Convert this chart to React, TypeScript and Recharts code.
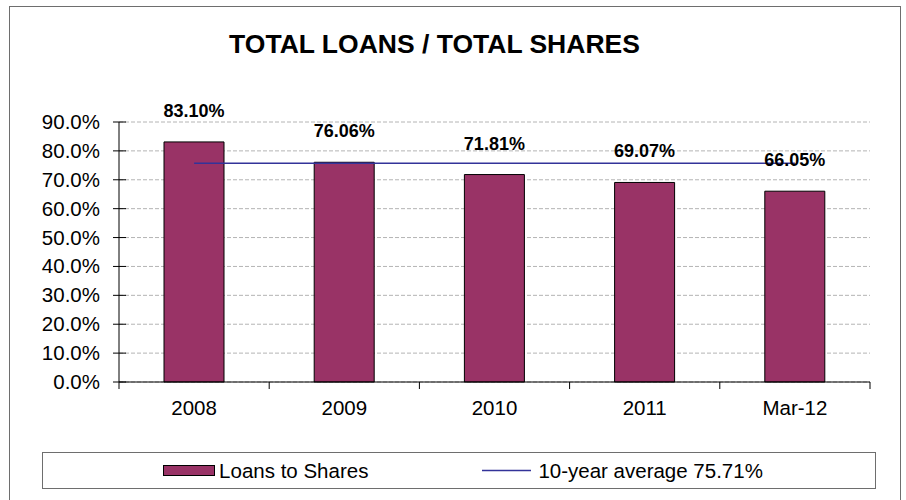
import {
    ComposedChart,
    Bar,
    Line,
    XAxis,
    YAxis,
    CartesianGrid,
    Legend,
    LabelList,
} from "recharts";

const categories = ["2008", "2009", "2010", "2011", "Mar-12"];
const loansToShares = [83.1, 76.06, 71.81, 69.07, 66.05];
const tenYearAverage = [75.71, 75.71, 75.71, 75.71, 75.71];
const yTicks = [0, 10, 20, 30, 40, 50, 60, 70, 80, 90];

const FONT = "'Liberation Sans', Arial, sans-serif";
const W = 906;
const H = 500;
const MARGIN = { top: 122, right: 36, bottom: 88, left: 59 };
const Y_AXIS_W = 60;
const BAND = (W - MARGIN.left - Y_AXIS_W - MARGIN.right) / categories.length;

const data = categories.map((name, i) => ({
    name,
    loans: loansToShares[i],
    avg: tenYearAverage[i],
}));

const YTick = ({ x, y, payload }: any) => (
    <g>
        <line x1={x - 6} x2={x + 7} y1={y} y2={y} stroke="#000" />
        <text
            x={x - 19}
            y={y + 7}
            textAnchor="end"
            fontSize={20.5}
            fontFamily={FONT}
            fill="#000"
        >
            {`${Number(payload.value).toFixed(1)}%`}
        </text>
    </g>
);

const XTick = ({ x, y, payload, index }: any) => {
    const half = BAND / 2;
    return (
        <g>
            <line x1={x - half} x2={x - half} y1={y} y2={y + 7} stroke="#000" />
            {index === categories.length - 1 && (
                <line x1={x + half} x2={x + half} y1={y} y2={y + 7} stroke="#000" />
            )}
            <text
                x={x}
                y={y + 33}
                textAnchor="middle"
                fontSize={20.5}
                fontFamily={FONT}
                fill="#000"
            >
                {payload.value}
            </text>
        </g>
    );
};

const BarLabel = (p: any) => (
    <text
        x={p.x + p.width / 2}
        y={p.y - 25}
        textAnchor="middle"
        fontSize={18}
        fontWeight="bold"
        fontFamily={FONT}
        fill="#000"
    >
        {`${Number(p.value).toFixed(2)}%`}
    </text>
);

const renderLegend = (props: any) => {
    // bars first, then the average line, like the original
    const items = [...(props.payload || [])].sort(
        (a: any, b: any) => (a.type === "line" ? 1 : 0) - (b.type === "line" ? 1 : 0)
    );
    return (
        <div
            style={{
                boxSizing: "border-box",
                width: 834,
                height: 37,
                border: "1px solid #6e6e6e",
                background: "#fff",
                display: "flex",
                justifyContent: "center",
                alignItems: "center",
                gap: 114,
                paddingLeft: 8,
                fontSize: 20.5,
                fontFamily: FONT,
                color: "#000",
            }}
        >
            {items.map((entry: any) => (
                <div key={entry.value} style={{ display: "flex", alignItems: "center" }}>
                    {entry.type === "line" ? (
                        <svg width={49} height={11}>
                            <line x1={0} x2={49} y1={5.5} y2={5.5} stroke={entry.color} strokeWidth={1.5} />
                        </svg>
                    ) : (
                        <svg width={52} height={11}>
                            <rect x={0.5} y={0.5} width={51} height={10} fill={entry.color} stroke="#000" />
                        </svg>
                    )}
                    <span style={{ marginLeft: entry.type === "line" ? 7 : 4 }}>{entry.value}</span>
                </div>
            ))}
        </div>
    );
};

export default function App() {
    return (
        <div style={{ position: "absolute", left: 0, top: 0, width: W, height: H, overflow: "hidden", background: "#fff" }}>
            <div
                style={{
                    position: "absolute",
                    left: 9,
                    top: 6,
                    width: 892,
                    height: 520,
                    border: "1px solid #6e6e6e",
                    boxSizing: "border-box",
                }}
            />
            <svg style={{ position: "absolute", left: 0, top: 0 }} width={W} height={70}>
                <text
                    x={434.5}
                    y={53}
                    textAnchor="middle"
                    fontSize={26.5}
                    fontWeight="bold"
                    fontFamily={FONT}
                    fill="#000"
                >
                    TOTAL LOANS / TOTAL SHARES
                </text>
            </svg>
            <div style={{ position: "absolute", left: 0, top: 0 }}>
                <ComposedChart width={W} height={H} data={data} margin={MARGIN}>
                    <CartesianGrid vertical={false} stroke="#b4b4b4" strokeDasharray="4 2" />
                    <XAxis
                        dataKey="name"
                        interval={0}
                        tickSize={0}
                        tickMargin={0}
                        tickLine={false}
                        axisLine={{ stroke: "#000" }}
                        tick={<XTick />}
                    />
                    <YAxis
                        width={Y_AXIS_W}
                        domain={[0, 90]}
                        ticks={yTicks}
                        interval={0}
                        tickSize={0}
                        tickMargin={0}
                        tickLine={false}
                        axisLine={{ stroke: "#000" }}
                        tick={<YTick />}
                    />
                    <Bar
                        dataKey="loans"
                        name="Loans to Shares"
                        fill="#993366"
                        stroke="#000"
                        strokeWidth={1}
                        barSize={60}
                        isAnimationActive={false}
                    >
                        <LabelList dataKey="loans" content={BarLabel} />
                    </Bar>
                    <Line
                        dataKey="avg"
                        name="10-year average 75.71%"
                        stroke="#333399"
                        strokeWidth={1.5}
                        dot={false}
                        activeDot={false}
                        isAnimationActive={false}
                    />
                    <Legend
                        layout="horizontal"
                        verticalAlign="middle"
                        align="center"
                        content={renderLegend}
                        wrapperStyle={{ position: "absolute", left: 42, top: 452, width: 834, height: 37 }}
                    />
                </ComposedChart>
            </div>
        </div>
    );
}
